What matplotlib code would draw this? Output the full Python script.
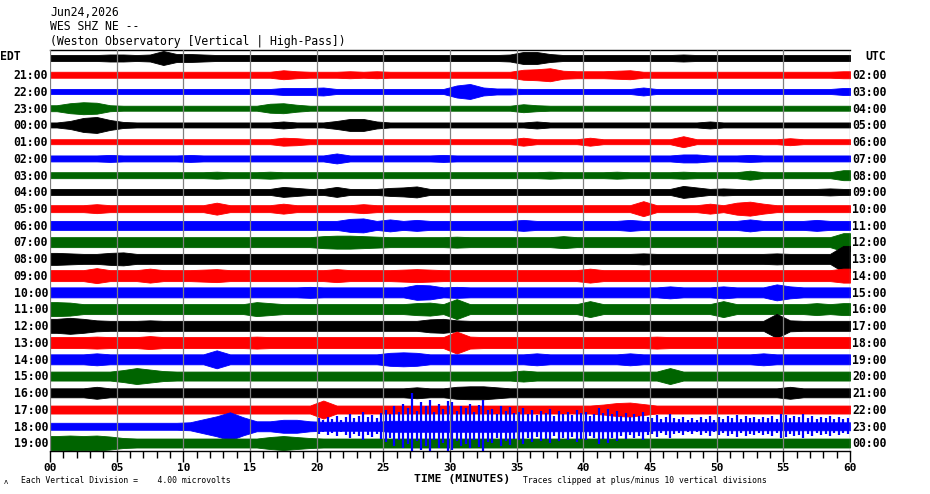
import numpy as np
import matplotlib
matplotlib.use("Agg")
import matplotlib.pyplot as plt

# ---------------- data ----------------
date_label = "Jun24,2026"
station_label = "WES SHZ NE --"
site_label = "(Weston Observatory [Vertical | High-Pass])"
left_labels = ["EDT", "21:00", "22:00", "23:00", "00:00", "01:00", "02:00", "03:00",
               "04:00", "05:00", "06:00", "07:00", "08:00", "09:00", "10:00", "11:00",
               "12:00", "13:00", "14:00", "15:00", "16:00", "17:00", "18:00", "19:00"]
right_labels = ["UTC", "02:00", "03:00", "04:00", "05:00", "06:00", "07:00", "08:00",
                "09:00", "10:00", "11:00", "12:00", "13:00", "14:00", "15:00", "16:00",
                "17:00", "18:00", "19:00", "20:00", "21:00", "22:00", "23:00", "00:00"]
trace_colors = ["#000000", "#ff0000", "#0000ff", "#006400"]
tick_minutes = [0, 5, 10, 15, 20, 25, 30, 35, 40, 45, 50, 55, 60]
tick_labels = ["00", "05", "10", "15", "20", "25", "30", "35", "40", "45", "50", "55", "60"]

# per-minute envelope (half amplitude) of each trace, minutes 0..59
env00 = [3,3,3,3,3.5,3.5,3,3.5,7,4, 4,3.5,3,3,3,3,3,3,3,3, 3,3,3,3,3,3,3,3,3,3,
         3,3,3,3,3.5,6,6,4,3,3, 3,3,3,3,3,3,3,3.5,3,3, 3,3,3,3,3,3,3,3,3,3]
env01 = [3,3,3,3,3,3,3,3,3,3, 3,3,3,3,3,3,3,4.5,3.5,3, 3,3,3.5,3,3.5,3,3,3,3,3,
         3,3,3,3,3,5,5.5,6.5,4,3.5, 3.5,3.5,4,4.5,3,3,3,3,3,3, 3,3,3,3,3,3,3,3,3,3.5]
env02 = [2.5,2.5,2.5,2.5,2.5,2.5,2.5,2.5,2.5,2.5, 2.5,2.5,2.5,2.5,2.5,2.5,2.5,3.5,3.5,3.5,
         4,2.5,2.5,2.5,2.5,2.5,2.5,2.5,2.5,2.5, 6,7.5,4,3,3,2.5,2.5,2.5,2.5,2.5,
         2.5,2.5,2.5,2.5,4,2.5,2.5,2.5,2.5,2.5, 2.5,2.5,2.5,2.5,2.5,2.5,2.5,2.5,2.5,3.5]
env03 = [3,5,6,5.5,3,2.5,2.5,2.5,2.5,2.5, 2.5,2.5,2.5,2.5,2.5,2.5,4.5,5,3.5,2.5,
         2.5,2.5,2.5,2.5,2.5,2.5,2.5,2.5,2.5,2.5, 2.5,2.5,2.5,2.5,2.5,4,3,2.5,2.5,2.5,
         2.5,2.5,2.5,2.5,2.5,2.5,2.5,2.5,2.5,2.5, 2.5,2.5,2.5,2.5,2.5,2.5,2.5,2.5,2.5,2.5]
env04 = [2.5,4,7,8,5,3,2.5,2.5,2.5,2.5, 2.5,2.5,2.5,2.5,2.5,2.5,2.5,3.5,2.5,2.5,
         2.5,4,6,6,3.5,2.5,2.5,2.5,2.5,2.5, 2.5,2.5,2.5,2.5,2.5,2.5,3.5,2.5,2.5,2.5,
         2.5,2.5,2.5,2.5,2.5,2.5,2.5,2.5,2.5,3.5, 2.5,2.5,2.5,2.5,2.5,2.5,2.5,2.5,2.5,2.5]
env05 = [2.5,2.5,2.5,2.5,2.5,2.5,2.5,2.5,2.5,2.5, 2.5,2.5,2.5,2.5,2.5,2.5,2.5,4,3.5,2.5,
         2.5,2.5,2.5,2.5,2.5,2.5,2.5,2.5,2.5,2.5, 2.5,2.5,2.5,2.5,2.5,4,2.5,2.5,2.5,2.5,
         4,2.5,2.5,2.5,2.5,2.5,2.5,5.5,2.5,2.5, 2.5,2.5,2.5,2.5,2.5,3.5,2.5,2.5,2.5,2.5]
env06 = [3,3,3,3,3.5,3,3,3,3,3, 3.5,3,3,3,3,3,3,3,3,3, 3,5,3,3,3,3,3,3,3,3.5,
         3,3,3,3,3,3,3,3,3,3, 3,3,3,3,3,3,3,4,4,3, 3,3,3.5,3,3,3,3,3,3,3]
env07 = [3,3,3,3,3,3,3,3,3,3, 3,3,3.5,3,3,3,3.5,3,3,3, 3,3,3,3,3,3,3,3,3,3,
         3,3,3,3,3,3,3,3.5,3,3, 3,3,3.5,3,3,3,3,3.5,3,3, 3,3,4.5,3,3,3,3,3,3,5]
env08 = [3,3,3,3,3,3,3,3,3,3, 3,3,3,3,3,3,3,5,4,3, 3,5,3,3,3,4,4.5,5.5,3,3,
         3,3,3,3,3,3,3,3,3,3, 3,3,3,3,3,3,3,6,4.5,3, 3.5,3,3,3,3,3,3,3,3.5,3]
env09 = [3.5,3.5,3.5,4.5,3.5,3.5,3.5,3.5,3.5,3.5, 3.5,3.5,6,3.5,3.5,3.5,3.5,5,3.5,3.5,
         3.5,3.5,3.5,4.5,3.5,3.5,3.5,3.5,3.5,3.5, 3.5,3.5,3.5,3.5,3.5,3.5,3.5,3.5,3.5,3.5,
         3.5,3.5,3.5,3.5,7.5,3.5,3.5,3.5,3.5,5, 3.5,6,7,5,3.5,3.5,3.5,3.5,3.5,3.5]
env10 = [4.5,4.5,4.5,4.5,4.5,4.5,4.5,4.5,4.5,4.5, 4.5,4.5,4.5,4.5,4.5,4.5,4.5,4.5,4.5,4.5,
         4.5,4.5,6.5,7,4.5,6,4.5,5.5,4.5,4.5, 4.5,4.5,4.5,4.5,4.5,5.5,4.5,4.5,4.5,4.5,
         4.5,4.5,4.5,5.5,4.5,4.5,4.5,4.5,4.5,4.5, 4.5,4.5,6,4.5,4.5,4.5,4.5,5.5,4.5,4.5]
env11 = [5,5,5,5,5,5,5,5,5,5, 5,5,5,5,5,5,5,5,5,5, 6,6.5,6.5,6,5.5,5,5,5,5,5,
         5.5,5,5,5,5,5,5,5,6,5, 5,5,5,5,5,5,5,5,5,5, 5,5,5,5,5,5,5,5,5,9]
env12 = [6,5.5,5,5,6,6.5,5,5,5,5, 5,5,5,5,5,5,5,5,5,5, 5,5,5,5,5,5,5,5,5,5,
         5,5,5,5,5,5,5,5,5,5, 5,5,5,5,5.5,5,5,5,5,5, 5,5,5,5,5.5,5,5,5,5,13]
env13 = [5.5,5.5,5.5,7.5,5.5,5.5,5.5,7,5.5,5.5, 5.5,6,6.5,5.5,5.5,5.5,5.5,5.5,5.5,5.5,
         5.5,6.5,5.5,5.5,5.5,5.5,6,6.5,6,5.5, 5.5,5.5,5.5,5.5,5.5,5.5,5.5,5.5,5.5,5.5,
         7,5.5,5.5,5.5,5.5,5.5,5.5,5.5,5.5,5.5, 5.5,5.5,5.5,5.5,5.5,5.5,5.5,5.5,5.5,7]
env14 = [5,5,5,5,5,5,5,5,5,5, 5,5,5,5,5,5,5,5,5,5.5, 5,5,5,5,5,5,5,7.5,7,5,
         5.5,5,5,5,5,5,5,5,5,5, 5,5,5,5,5,5,6,5,5,5, 6,5,5,5,8,6,5,5,5,5]
env15 = [7,6.5,5,5,5,5,5,5,5,5, 5,5,5,5,5,7,6,5,5,5, 5,5,5,5,5,5,5,6,6.5,5,
         10,5,5,5,5,5,5,5,5,5, 8,5,5,5,5,5,5,5,5,5, 8,5,5,5,5,5,5,6,5,6]
env16 = [7,8,7,5.5,5,5,5,5.5,5,5, 5,5,5,5,5,5,5,5,5,5, 5,5,5,5,5,5,5,5,6.5,7,
         5.5,5,5,5,5,5,5,5,5,5, 5,5,5,5,5,5,5,5,5,5, 5,5,5,5,12,5.5,5,5,5,5]
env17 = [5.5,5.5,5.5,6,5.5,5.5,5.5,6.5,5.5,5.5, 5.5,5.5,5.5,5.5,5.5,6,5.5,5.5,5.5,5.5,
         5.5,5.5,5.5,5.5,5.5,5.5,5.5,5.5,5.5,5.5, 11,6,5.5,5.5,5.5,5.5,5.5,5.5,5.5,5.5,
         5.5,5.5,5.5,5.5,5.5,6,5.5,5.5,5.5,5.5, 5.5,5.5,5.5,5.5,5.5,5.5,5.5,5.5,5.5,5.5]
env18 = [5,5,5,6,5,5,5,5,5,5, 5,5,9,5,5,5,5,5,5,5, 5,5,5,5,5,6.5,7,6.5,5,5,
         5,5,5,5,5,5,6,5,5,5, 5,5,5,6,5,5,5,5,5,5, 5,5,5,6,5,5,5,5,5,5]
env19 = [4.5,4.5,4.5,4.5,4.5,6,8,6.5,5,4.5, 4.5,4.5,4.5,4.5,4.5,4.5,4.5,4.5,4.5,4.5,
         4.5,4.5,4.5,4.5,4.5,4.5,4.5,4.5,4.5,4.5, 4.5,4.5,4.5,4.5,4.5,5.5,4.5,4.5,4.5,4.5,
         4.5,4.5,4.5,4.5,4.5,4.5,8,4.5,4.5,4.5, 4.5,4.5,4.5,4.5,4.5,4.5,4.5,4.5,4.5,4.5]
env20 = [4.5,4.5,4.5,6,4.5,4.5,4.5,4.5,4.5,4.5, 4.5,4.5,4.5,4.5,4.5,4.5,4.5,4.5,4.5,4.5,
         4.5,4.5,4.5,4.5,4.5,4.5,4.5,5.5,4.5,4.5, 6,6.5,6.5,5.5,4.5,4.5,4.5,4.5,4.5,4.5,
         4.5,4.5,4.5,4.5,4.5,4.5,4.5,4.5,4.5,4.5, 4.5,4.5,4.5,4.5,4.5,6,4.5,4.5,4.5,4.5]
env21 = [4,4,4,4,4,4,4,4,4,4, 4,4,4,4,4,4,4,4,4,4, 9,4,4,4,4,4,4,4,4,4,
         4,4,4,4,4,4,4,4,4,4, 4,5,6.5,7,5.5,4,4,4,4,4, 4,4,4,4,4,4,4,4,4,4]
env22 = [3.5,3.5,3.5,3.5,3.5,3.5,3.5,3.5,3.5,3.5, 4,7,10,14,9,5,5,6.5,6.5,5,
         4.5,4.5,4.5,4.5,4.5,5.5,5.5,5.5,5.5,5.5, 5.5,5.5,5.5,5.5,5.5,5,5,5,5,5,
         5,5,5,5,5,4,4,4,4,4, 4,4,4,4,4,4,4,4,4,4]
env23 = [7,7.5,7,7.5,6.5,5,4.5,4.5,4.5,4.5, 4.5,4.5,4.5,4.5,4.5,4.5,6,7,6,5,
         4.5,4.5,4.5,4.5,4.5,4.5,4.5,4.5,4.5,4.5, 4.5,4.5,4.5,4.5,4.5,4.5,4.5,4.5,4.5,4.5,
         4.5,4.5,4.5,4.5,4.5,4.5,4.5,4.5,4.5,4.5, 4.5,4.5,4.5,4.5,4.5,4.5,4.5,4.5,4.5,4.5]
envelopes = [env00, env01, env02, env03, env04, env05, env06, env07, env08, env09, env10, env11,
             env12, env13, env14, env15, env16, env17, env18, env19, env20, env21, env22, env23]

# large oscillation peaks on the 18:00 trace (3 per minute, minutes 20..60)
osc_start = 20
osc_peaks = [8,6,9, 7,10,6, 9,12,8, 10,14,9, 11,8,13,
             16,12,20, 14,22,18, 33,15,24, 20,26,14, 22,17,25,
             24,15,20, 18,22,14, 21,26,16, 17,12,20, 15,19,13,
             14,18,12, 16,11,15, 13,17,10, 15,12,14, 11,16,13,
             14,10,12, 18,13,17, 12,15,10, 13,9,12, 10,14,9,
             8,11,7, 9,12,8, 7,9,6, 8,6,9, 7,10,6,
             9,7,10, 8,11,7, 10,8,9, 7,9,8, 10,7,12,
             11,8,10, 9,12,8, 10,7,9, 8,10,7, 9,7,8]
osc_row = 22

# ---------------- style ----------------
W, H = 930, 494
ROW_PX = 16.74
MONO = "DejaVu Sans Mono"
fig = plt.figure(figsize=(W / 100, H / 100), dpi=100)
ax_l, ax_r, ax_t, ax_b = 50, 850, 50, 450.7
ax = fig.add_axes([ax_l / W, 1 - ax_b / H, (ax_r - ax_l) / W, (ax_b - ax_t) / H])
nrows = len(envelopes)
ax.set_xlim(0, 60)
ax.set_ylim(-(ax_b - 58) / ROW_PX, (58 - ax_t) / ROW_PX)

xc = np.concatenate([[0], np.arange(60) + 0.5, [60]])
for i, env in enumerate(envelopes):
    a = np.asarray(env, dtype=float) / ROW_PX
    a = np.concatenate([[a[0]], a, [a[-1]]])
    col = trace_colors[i % 4]
    ax.fill_between(xc, -i - a, -i + a, color=col, lw=0.6, edgecolor=col, zorder=2 + i * 0.01)

# oscillation spikes
pk = np.asarray(osc_peaks, dtype=float) / ROW_PX
tt = osc_start + (np.arange(len(osc_peaks)) + 0.5) / 3.0
ax.vlines(tt, -osc_row - pk, -osc_row + pk, color=trace_colors[osc_row % 4], lw=1.6, zorder=3)

# grid lines
for m in tick_minutes:
    ax.axvline(m, color="#808080", lw=0.9, zorder=4)

for s in ["left", "right"]:
    ax.spines[s].set_visible(False)
ax.spines["top"].set_color("black")
ax.spines["bottom"].set_color("black")
ax.spines["top"].set_linewidth(1.0)
ax.spines["bottom"].set_linewidth(1.0)

ax.set_yticks([])
ax.set_xticks(tick_minutes)
ax.set_xticklabels(tick_labels, fontfamily=MONO, fontweight="bold", fontsize=8)
ax.set_xticks(np.arange(0, 61, 1), minor=True)
ax.tick_params(axis="x", which="major", direction="out", length=8, width=1.0, pad=1, color="black")
ax.tick_params(axis="x", which="minor", direction="out", length=5, width=1.0, color="black")

ytr = ax.get_yaxis_transform()
for i in range(nrows):
    if i == 0:
        ax.text(-50 / 800, -i + 0.1, left_labels[i], transform=ytr, ha="left", va="center",
                fontfamily=MONO, fontweight="bold", fontsize=8.3)
        ax.text(1 + 15 / 800, -i + 0.1, right_labels[i], transform=ytr, ha="left", va="center",
                fontfamily=MONO, fontweight="bold", fontsize=8.3)
    else:
        ax.text(-2 / 800, -i - 0.05, left_labels[i], transform=ytr, ha="right", va="center",
                fontfamily=MONO, fontweight="bold", fontsize=8.3)
        ax.text(1 + 2 / 800, -i - 0.05, right_labels[i], transform=ytr, ha="left", va="center",
                fontfamily=MONO, fontweight="bold", fontsize=8.3)

fig.text(50 / W, 1 - 12 / H, date_label, ha="left", va="center", fontfamily=MONO, fontsize=8.3)
fig.text(50 / W, 1 - 27 / H, station_label, ha="left", va="center", fontfamily=MONO, fontsize=8.3)
fig.text(50 / W, 1 - 42 / H, site_label, ha="left", va="center", fontfamily=MONO, fontsize=8.3)

fig.text(414 / W, 1 - 479 / H, "TIME (MINUTES)", ha="left", va="center", fontfamily=MONO,
         fontweight="bold", fontsize=8.2)
fig.text(21 / W, 1 - 480 / H, "Each Vertical Division =    4.00 microvolts", ha="left", va="center",
         fontfamily=MONO, fontsize=5.9)
fig.text(523 / W, 1 - 480 / H, "Traces clipped at plus/minus 10 vertical divisions", ha="left",
         va="center", fontfamily=MONO, fontsize=5.9)
fig.text(4 / W, 1 - 482 / H, "\u028c", ha="left", va="center", fontfamily=MONO, fontsize=5)

fig.savefig("out.png", dpi=100)
